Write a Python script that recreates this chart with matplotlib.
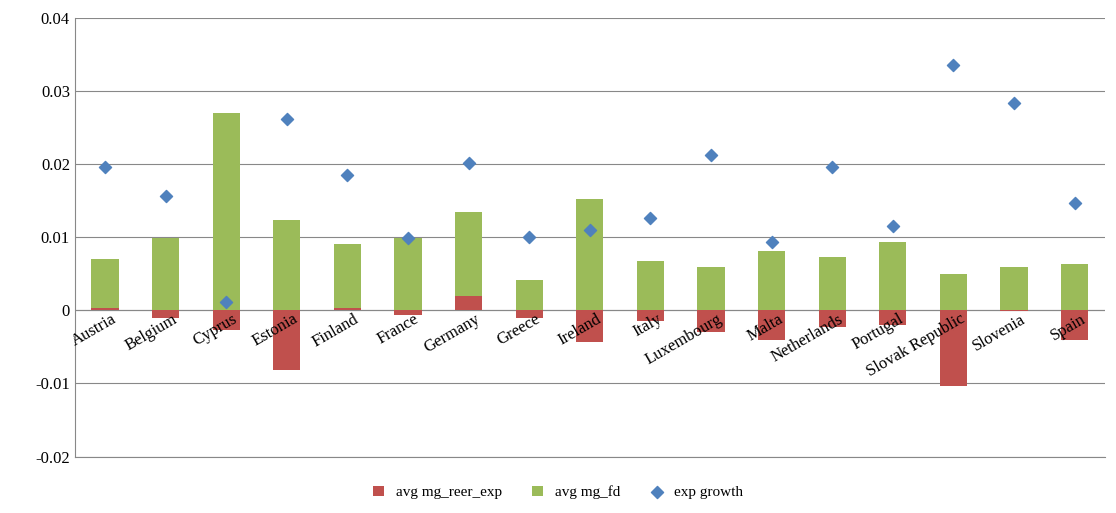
import matplotlib.pyplot as plt
import numpy as np

countries = ["Austria", "Belgium", "Cyprus", "Estonia", "Finland", "France", "Germany",
             "Greece", "Ireland", "Italy", "Luxembourg", "Malta", "Netherlands",
             "Portugal", "Slovak Republic", "Slovenia", "Spain"]
reer = [0.0003, -0.001, -0.0027, -0.0082, 0.0003, -0.0007, 0.002, -0.001, -0.0043,
        -0.0014, -0.003, -0.004, -0.0023, -0.002, -0.0103, -0.0001, -0.004]
fd = [0.0067, 0.0099, 0.027, 0.0124, 0.0088, 0.0099, 0.0115, 0.0042, 0.0152,
      0.0068, 0.006, 0.0081, 0.0073, 0.0093, 0.005, 0.0059, 0.0064]
growth = [0.0196, 0.0157, 0.0012, 0.0262, 0.0185, 0.0099, 0.0201, 0.0101, 0.011,
          0.0126, 0.0212, 0.0094, 0.0196, 0.0116, 0.0336, 0.0284, 0.0147]

plt.rcParams["font.family"] = ["Liberation Serif", "DejaVu Serif"]
fig, ax = plt.subplots(figsize=(11.16, 5.13), dpi=100)
fig.subplots_adjust(left=0.067, right=0.99, top=0.965, bottom=0.11)

x = np.arange(len(countries))
reer = np.array(reer)
fd_bottom = np.where(reer > 0, reer, 0)
b1 = ax.bar(x, reer, width=0.45, color="#C0504D", label="avg mg_reer_exp", zorder=2)
b2 = ax.bar(x, fd, width=0.45, bottom=fd_bottom, color="#9BBB59", label="avg mg_fd", zorder=2)
sc = ax.scatter(x, growth, marker="D", s=38, color="#4F81BD", label="exp growth", zorder=3)

ax.set_xlim(-0.5, len(countries) - 0.5)
ax.set_ylim(-0.02, 0.04)
ax.set_yticks(np.arange(-0.02, 0.041, 0.01))
ax.set_yticklabels(["-0.02", "-0.01", "0", "0.01", "0.02", "0.03", "0.04"], fontsize=12)
ax.yaxis.grid(True, color="#888888", linewidth=0.8, zorder=0)
ax.axhline(0, color="#888888", linewidth=0.8, zorder=1)
ax.set_xticks([])
for xi, name in zip(x, countries):
    ax.text(xi + 0.1, -0.0001, name, rotation=30, ha="right", va="top",
            rotation_mode="anchor", fontsize=12, zorder=5)
ax.tick_params(axis="y", length=0)
for s in ["top", "right", "bottom"]:
    ax.spines[s].set_visible(False)
ax.spines["left"].set_color("#888888")
ax.plot([-0.5, len(countries) - 0.5], [-0.02, -0.02], color="#888888", lw=0.8, clip_on=False)

fig.legend(handles=[b1, b2, sc], loc="lower center", ncol=3, frameon=False, fontsize=11,
           bbox_to_anchor=(0.5, 0.0), handlelength=0.7, handleheight=0.7)
fig.savefig("out.png")
